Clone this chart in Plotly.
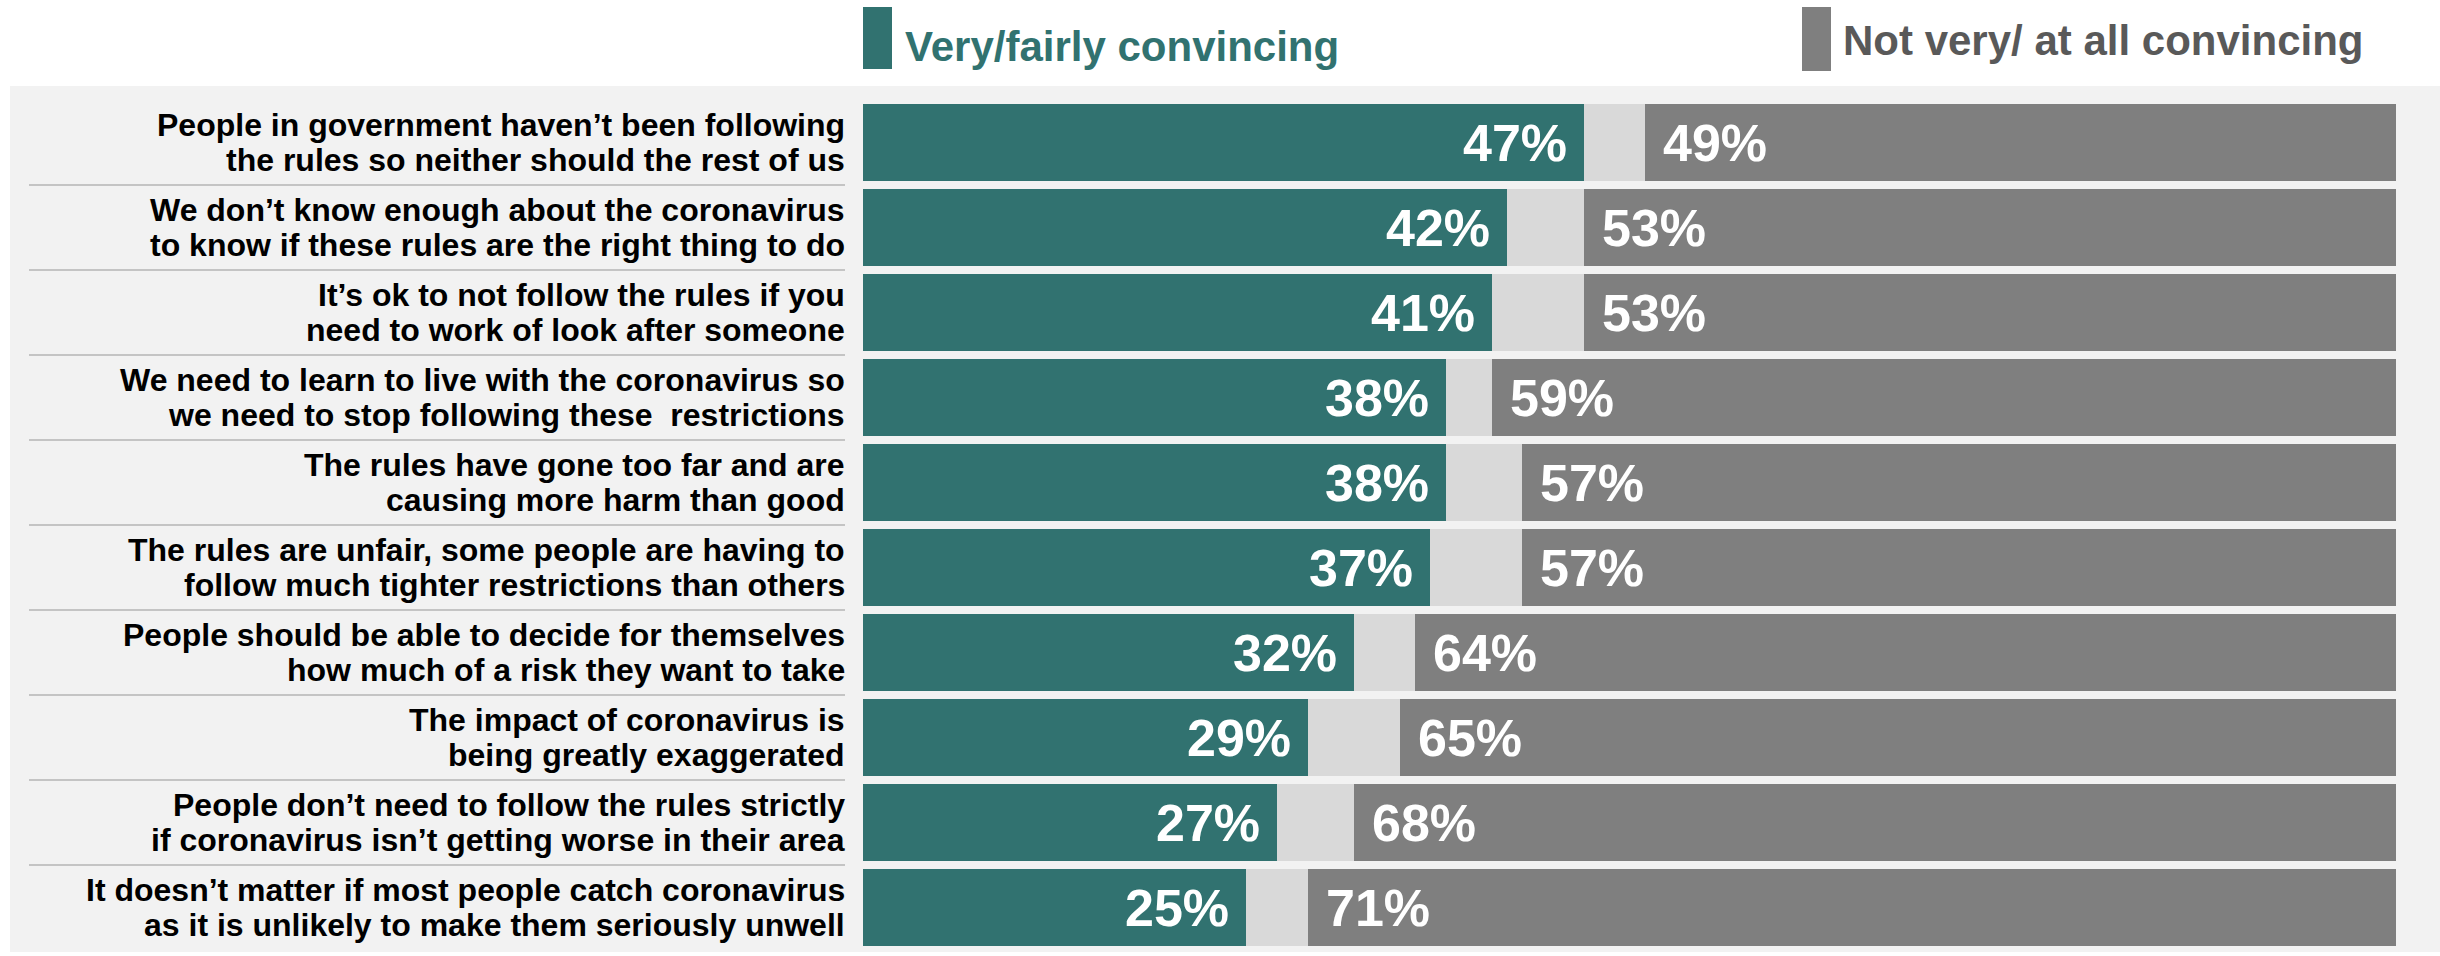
import plotly.graph_objects as go

statements = [
    "People in government haven\u2019t been following\nthe rules so neither should the rest of us",
    "We don\u2019t know enough about the coronavirus\nto know if these rules are the right thing to do",
    "It\u2019s ok to not follow the rules if you\nneed to work of look after someone",
    "We need to learn to live with the coronavirus so\nwe need to stop following these  restrictions",
    "The rules have gone too far and are\ncausing more harm than good",
    "The rules are unfair, some people are having to\nfollow much tighter restrictions than others",
    "People should be able to decide for themselves\nhow much of a risk they want to take",
    "The impact of coronavirus is\nbeing greatly exaggerated",
    "People don\u2019t need to follow the rules strictly\nif coronavirus isn\u2019t getting worse in their area",
    "It doesn\u2019t matter if most people catch coronavirus\nas it is unlikely to make them seriously unwell",
]
convincing = [47, 42, 41, 38, 38, 37, 32, 29, 27, 25]
dont_know = [4, 5, 6, 3, 5, 6, 4, 6, 5, 4]
not_convincing = [49, 53, 53, 59, 57, 57, 64, 65, 68, 71]
legend_names = ["Very/fairly convincing", "Not very/ at all convincing"]

TEAL = "#317270"
DARK = "#7F7F7F"
LIGHT = "#D9D9D9"
PANEL = "#F2F2F2"
FONT = "Liberation Sans, Arial, sans-serif"

n = len(statements)
ypos = list(range(n))
BW = 0.906

fig = go.Figure()
fig.add_trace(go.Bar(y=ypos, x=convincing, orientation="h", marker=dict(color=TEAL, line=dict(width=0)),
                     width=BW, name=legend_names[0], showlegend=False, hoverinfo="x"))
fig.add_trace(go.Bar(y=ypos, x=dont_know, orientation="h", marker=dict(color=LIGHT, line=dict(width=0)),
                     width=BW, name="Don't know", showlegend=False, hoverinfo="x"))
fig.add_trace(go.Bar(y=ypos, x=not_convincing, orientation="h", marker=dict(color=DARK, line=dict(width=0)),
                     width=BW, name=legend_names[1], showlegend=False, hoverinfo="x"))

W, H = 2440, 956
ML, MR, MT, MB = 863, 44, 100, 6
PW = W - ML - MR
PH = H - MT - MB


def px_x(x):
    return (x - ML) / PW


def px_y(y):
    return (H - MB - y) / PH


shapes = []
# panel background
shapes.append(dict(type="rect", xref="paper", yref="paper", x0=px_x(10), x1=px_x(2440),
                   y0=px_y(952), y1=px_y(86), fillcolor=PANEL, line=dict(width=0), layer="below"))
# separators between label rows
for i in range(n - 1):
    shapes.append(dict(type="line", xref="paper", yref="y", x0=px_x(29), x1=px_x(845),
                       y0=i + 0.5, y1=i + 0.5, line=dict(color="#C4C4C4", width=2), layer="above"))
# legend swatches
shapes.append(dict(type="rect", xref="paper", yref="paper", x0=px_x(863), x1=px_x(892),
                   y0=px_y(69), y1=px_y(7), fillcolor=TEAL, line=dict(width=0)))
shapes.append(dict(type="rect", xref="paper", yref="paper", x0=px_x(1802), x1=px_x(1831),
                   y0=px_y(71), y1=px_y(7), fillcolor=DARK, line=dict(width=0)))

annotations = []
# legend texts
annotations.append(dict(xref="paper", yref="paper", x=px_x(903), y=px_y(46), xanchor="left", yanchor="middle",
                        text="<b>%s</b>" % legend_names[0], showarrow=False,
                        font=dict(family=FONT, size=42, color=TEAL)))
annotations.append(dict(xref="paper", yref="paper", x=px_x(1841), y=px_y(40), xanchor="left", yanchor="middle",
                        text="<b>%s</b>" % legend_names[1], showarrow=False,
                        font=dict(family=FONT, size=42, color="#595959")))

# category labels, one annotation per line for tight line spacing
for i, s in enumerate(statements):
    lines = s.split("\n")
    k = len(lines)
    for j, ln in enumerate(lines):
        shift = ((k - 1) / 2 - j) * 35
        annotations.append(dict(xref="paper", yref="y", x=px_x(847), y=i, yshift=shift,
                                xanchor="right", yanchor="middle", text="<b>%s</b>" % ln, showarrow=False,
                                font=dict(family=FONT, size=32, color="#000000")))

# value labels
for i in range(n):
    annotations.append(dict(xref="x", yref="y", x=convincing[i], y=i, xshift=-15, xanchor="right",
                            yanchor="middle", text="<b>%d%%</b>" % convincing[i], showarrow=False,
                            font=dict(family=FONT, size=52, color="#FFFFFF")))
    annotations.append(dict(xref="x", yref="y", x=convincing[i] + dont_know[i], y=i, xshift=16,
                            xanchor="left", yanchor="middle", text="<b>%d%%</b>" % not_convincing[i],
                            showarrow=False, font=dict(family=FONT, size=52, color="#FFFFFF")))

fig.update_layout(
    width=W, height=H,
    margin=dict(l=ML, r=MR, t=MT, b=MB, pad=0),
    barmode="stack",
    paper_bgcolor="#FFFFFF",
    plot_bgcolor="rgba(0,0,0,0)",
    showlegend=False,
    shapes=shapes,
    annotations=annotations,
    xaxis=dict(range=[0, 100], visible=False, fixedrange=True),
    yaxis=dict(range=[n - 0.5, -0.5], visible=False, fixedrange=True),
    font=dict(family=FONT),
)

fig.write_html("out.html", config={"displayModeBar": False},
               post_script="document.body.style.margin='0';document.body.style.overflow='hidden';")
